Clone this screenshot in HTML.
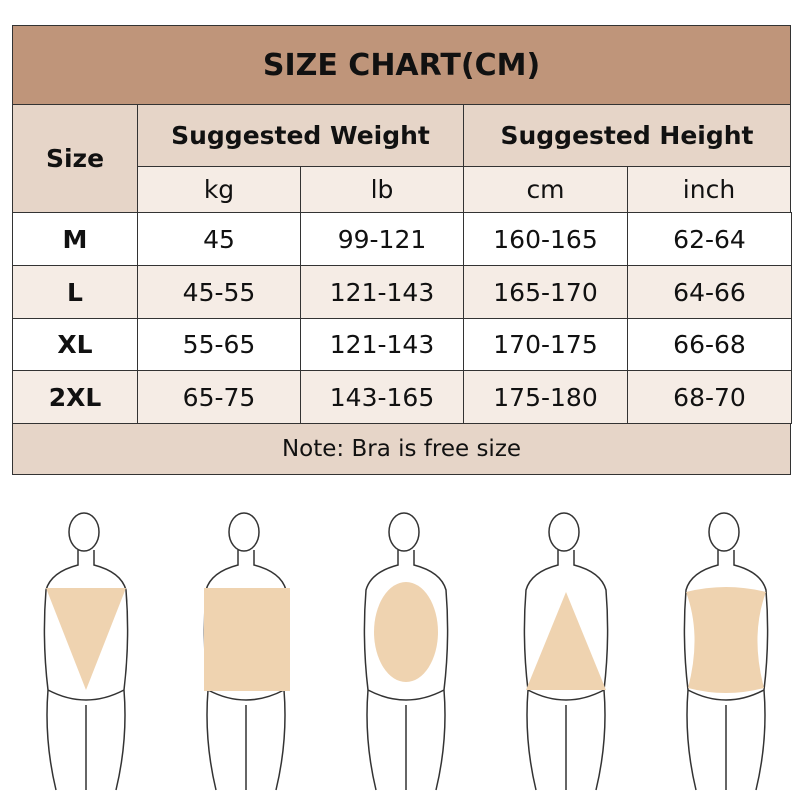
<!DOCTYPE html><html><head><style>
body{margin:0;width:800px;height:800px;background:#fff;font-family:"DejaVu Sans","Liberation Sans",sans-serif;position:relative;overflow:hidden}
.c{position:absolute;box-sizing:border-box;display:flex;align-items:center;justify-content:center;border:1px solid #333;font-size:25px;color:#111}
.b{font-weight:bold}
</style></head><body>
<div class="c b" style="left:12px;top:25px;width:779px;height:80px;background:#bf957a;font-size:30px">SIZE CHART(CM)</div>
<div class="c b" style="left:12px;top:104px;width:126px;height:109px;background:#e6d5c8">Size</div>
<div class="c b" style="left:137px;top:104px;width:327px;height:63px;background:#e6d5c8">Suggested Weight</div>
<div class="c b" style="left:463px;top:104px;width:328px;height:63px;background:#e6d5c8">Suggested Height</div>
<div class="c" style="left:137px;top:166px;width:164px;height:47px;background:#f5ece5">kg</div>
<div class="c" style="left:300px;top:166px;width:164px;height:47px;background:#f5ece5">lb</div>
<div class="c" style="left:463px;top:166px;width:165px;height:47px;background:#f5ece5">cm</div>
<div class="c" style="left:627px;top:166px;width:164px;height:47px;background:#f5ece5">inch</div>
<div id="rows"></div>
<div class="c" style="left:12px;top:423px;width:779px;height:52px;background:#e6d5c8;font-size:23px">Note: Bra is free size</div>
<svg width="800" height="800" style="position:absolute;left:0;top:0" fill="none" stroke="#333" stroke-width="1.5">
<g id="figs"></g>
</svg>
<script>
var d=[["M","45","99-121","160-165","62-64","#fff"],["L","45-55","121-143","165-170","64-66","#f5ece5"],["XL","55-65","121-143","170-175","66-68","#fff"],["2XL","65-75","143-165","175-180","68-70","#f5ece5"]];
var xs=[12,137,300,463,627,791],ys=[212,265,318,370,423],h="";
d.forEach(function(r,i){for(var j=0;j<5;j++){h+='<div class="c'+(j==0?' b':'')+'" style="left:'+xs[j]+'px;top:'+ys[i]+'px;width:'+(xs[j+1]-xs[j]+1)+'px;height:'+(ys[i+1]-ys[i]+1)+'px;background:'+r[5]+'">'+r[j]+'</div>';}});
document.getElementById("rows").innerHTML=h;
var cx=[86,246,406,566,726],s="",sh=[
'<polygon points="46,588 126,588 86,690" fill="#efd3b0" stroke="none"/>',
'<rect x="204" y="588" width="86" height="103" fill="#efd3b0" stroke="none"/>',
'<ellipse cx="406" cy="632" rx="32" ry="50" fill="#efd3b0" stroke="none"/>',
'<polygon points="566,592 606,690 526,690" fill="#efd3b0" stroke="none"/>',
'<path d="M686,592 Q726,582 766,592 Q750,635 764,688 Q726,698 688,688 Q702,635 686,592Z" fill="#efd3b0" stroke="none"/>'];
cx.forEach(function(x,i){
s+='<ellipse cx="'+(x-2)+'" cy="532" rx="15" ry="19"/>';
s+='<path d="M'+(x-8)+',550 L'+(x-8)+',565 Q'+(x-35)+',572 '+(x-40)+',590 Q'+(x-44)+',640 '+(x-38)+',690 Q'+(x-42)+',740 '+(x-30)+',790 M'+(x+8)+',550 L'+(x+8)+',565 Q'+(x+35)+',572 '+(x+40)+',590 Q'+(x+44)+',640 '+(x+38)+',690 Q'+(x+42)+',740 '+(x+30)+',790 M'+(x-38)+',690 Q'+x+',710 '+(x+38)+',690 M'+x+',705 L'+x+',790"/>';
s+=sh[i];});
document.getElementById("figs").innerHTML=s;
</script>
</body></html>
